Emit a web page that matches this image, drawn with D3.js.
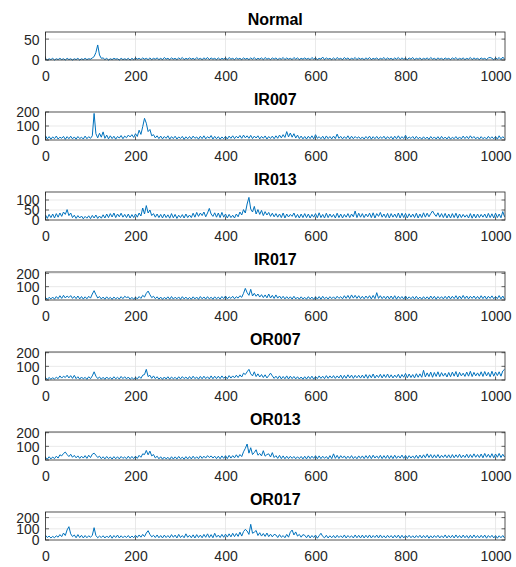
<!DOCTYPE html>
<html><head><meta charset="utf-8">
<script src="https://cdn.jsdelivr.net/npm/d3@7"></script>
<style>body{margin:0;background:#fff}svg{display:block}</style>
</head><body><svg id="c" width="516" height="567"></svg>
<script>
const titles = ["Normal","IR007","IR013","IR017","OR007","OR013","OR017"];
const xTicks = [0,200,400,600,800,1000];
const xMax = 1021;
const sampleStep = 4; // spectrum bin index of each stored value = i*sampleStep
const yMaxes = [67,200,140,210,205,205,250];
const yTickSets = [[0,50],[0,100,200],[0,50,100],[0,100,200],[0,100,200],[0,100,200],[0,100,200]];

const normal = [
4,0,3,1,4,0,3,1,4,1,3,0,4,1,3,0,
3,1,4,0,3,1,4,1,3,2,5,8,18,36,12,4,
5,1,4,0,3,1,4,2,3,0,4,1,3,1,4,0,
4,1,5,2,4,1,5,2,4,1,5,1,4,2,5,1,
4,1,6,2,4,1,5,2,4,1,5,2,6,1,4,2,
5,2,4,1,6,2,4,1,5,2,6,1,5,2,4,1,
5,1,4,2,5,1,6,2,4,1,5,2,4,1,5,2,
4,1,5,2,6,1,4,2,5,1,6,2,4,1,5,2,
5,1,4,2,6,1,5,2,4,1,6,2,5,1,4,2,
5,2,4,1,6,2,5,1,4,2,7,1,5,2,4,1,
5,1,6,2,4,1,6,2,5,1,4,2,6,1,5,2,
4,1,5,2,6,1,4,2,5,1,4,2,6,1,5,2,
4,1,5,2,6,1,5,2,4,1,5,2,6,1,4,2,
5,1,4,2,5,1,6,2,4,1,5,2,4,1,5,2,
4,1,5,2,6,1,4,2,5,1,4,2,6,1,5,2,
4,1,5,2,4,1,5,6,4,1,5,2,6,1,7,2];

const ir007 = [
30,8,24,6,22,10,28,7,20,12,26,5,24,9,27,8,
22,6,25,10,20,7,28,9,24,12,30,190,45,15,48,20,
58,12,35,8,30,10,27,6,25,14,32,9,28,16,35,22,
38,18,45,25,70,40,95,155,120,60,75,30,38,15,30,10,
28,8,25,12,30,6,24,10,27,7,22,11,26,5,23,9,
25,8,28,12,22,6,27,10,30,8,24,13,32,7,26,9,
24,6,22,9,26,7,28,12,30,10,27,14,32,12,35,15,
30,12,33,10,28,14,30,8,26,12,29,7,25,11,28,9,
30,12,35,15,38,18,60,22,50,20,45,14,35,10,28,8,
25,7,27,10,30,8,38,12,24,9,27,6,29,10,25,8,
28,10,42,12,26,8,24,10,30,7,27,9,25,12,23,8,
22,7,25,10,28,6,24,9,26,8,23,11,27,7,24,10,
25,6,27,9,30,8,24,10,34,8,22,11,25,7,26,9,
20,6,23,8,21,5,25,9,22,7,24,6,26,8,21,7,
24,6,20,9,25,7,22,8,28,10,26,9,30,12,25,8,
22,6,24,9,20,7,26,10,23,8,25,6,30,9,24,10];

const ir013 = [
25,8,28,12,30,10,32,14,35,18,40,28,52,22,35,12,
24,8,22,10,20,6,18,9,21,7,23,10,25,8,20,9,
26,10,30,12,32,15,35,12,30,16,34,14,28,12,30,10,
27,12,30,14,35,20,60,30,72,35,50,22,32,14,30,12,
28,10,30,12,26,9,32,11,28,8,24,12,27,10,30,12,
25,12,34,14,38,18,35,22,40,16,35,58,30,18,36,14,
35,12,38,14,30,10,28,12,24,10,30,16,40,25,52,35,
80,113,55,40,68,30,52,28,48,22,42,25,38,18,34,16,
32,14,30,12,35,10,30,15,28,18,35,12,28,10,30,12,
32,12,30,10,28,14,32,11,36,12,28,10,34,12,30,14,
28,10,34,12,30,10,28,14,32,12,30,16,45,12,34,14,
32,12,30,16,34,12,36,10,32,18,38,14,30,12,33,10,
32,14,30,12,35,10,34,12,33,10,31,14,30,12,34,10,
30,12,36,14,34,16,32,45,30,18,36,14,32,12,33,10,
30,10,32,12,34,9,30,12,28,14,26,10,32,9,30,10,
30,12,28,14,30,10,33,12,31,10,34,12,30,11,42,16];

const ir017 = [
18,5,20,8,22,6,26,10,32,12,35,15,30,18,33,12,
28,10,30,8,26,7,24,9,28,14,45,70,40,15,26,8,
22,6,24,8,20,5,22,9,19,7,25,10,28,18,24,6,
20,5,22,8,26,12,35,22,50,67,40,18,28,10,24,6,
22,5,20,8,24,6,26,7,21,9,23,5,25,8,22,6,
20,6,24,8,22,5,26,9,23,7,25,8,21,6,24,9,
22,7,26,10,30,8,24,12,28,9,25,14,32,20,50,87,
55,35,80,30,50,28,45,22,40,18,38,16,45,15,35,12,
38,14,30,10,28,8,25,9,24,7,28,8,22,6,24,8,
20,6,25,8,22,5,24,7,26,6,28,9,22,7,25,10,
24,8,28,12,25,9,32,12,34,10,38,14,35,12,32,10,
28,9,30,12,32,8,34,10,55,12,32,10,28,9,30,8,
30,8,32,6,28,10,26,7,30,8,24,9,26,7,28,8,
22,6,25,8,24,7,30,9,28,6,26,10,25,8,28,9,
30,8,28,10,32,7,30,9,34,10,30,8,28,12,30,9,
27,8,32,10,30,7,28,12,31,9,26,10,33,8,30,7];

const or007 = [
15,5,18,6,16,8,20,10,30,14,28,18,35,15,32,12,
34,10,24,6,22,8,20,5,24,10,30,60,28,10,22,6,
20,5,22,8,18,6,24,9,20,7,26,10,24,8,22,5,
18,6,20,8,26,12,35,40,78,25,35,12,30,10,24,6,
20,5,22,7,24,6,22,9,20,6,24,8,25,10,22,7,
25,8,28,10,22,6,26,9,28,10,24,8,30,9,28,10,
28,10,30,12,26,9,32,14,30,16,35,18,38,22,50,40,
60,78,45,30,60,25,45,22,40,18,38,15,32,50,30,12,
28,10,30,8,26,9,30,7,28,10,26,8,24,7,22,6,
24,7,26,9,28,6,25,10,30,12,28,10,32,12,30,14,
32,12,30,14,36,10,34,13,38,15,36,12,34,16,35,14,
36,14,40,12,38,16,44,14,36,18,42,15,40,18,44,16,
38,15,36,18,42,14,40,20,48,16,44,18,40,15,46,20,
45,20,71,22,52,25,58,20,55,26,60,24,54,28,50,22,
55,24,58,28,62,22,56,30,50,26,58,28,64,25,56,30,
52,28,60,26,62,30,56,24,64,28,58,32,60,28,66,78];

const or013 = [
20,6,24,8,22,10,28,14,38,30,48,58,40,25,42,20,
34,16,30,12,28,14,32,12,35,18,42,50,35,18,28,10,
24,8,26,10,22,7,25,9,24,8,26,12,22,9,28,10,
26,10,28,12,34,20,45,40,70,38,65,30,40,15,28,9,
24,6,22,8,20,5,24,7,23,8,26,9,21,6,25,8,
25,8,28,10,24,9,30,12,28,14,32,18,30,14,28,10,
28,9,30,12,32,10,34,14,32,16,38,18,40,25,60,85,
117,50,90,40,55,75,35,48,30,68,28,40,45,22,54,18,
32,12,34,10,30,9,28,10,27,12,26,9,24,10,26,8,
28,8,30,10,28,12,32,9,30,10,28,12,26,8,32,10,
45,12,34,10,32,14,30,10,28,12,32,10,26,9,30,12,
30,10,32,12,34,10,35,14,30,12,34,10,32,12,35,10,
32,10,35,12,30,14,36,12,34,10,32,14,30,12,35,12,
36,14,38,16,45,18,40,14,38,16,40,14,35,18,38,16,
38,14,40,16,38,18,42,16,36,18,42,16,40,18,45,20,
40,18,44,16,48,20,42,18,46,16,44,20,48,18,42,22];

const or017 = [
42,22,35,18,32,20,38,25,48,30,62,40,90,119,55,30,
45,20,48,22,42,18,40,20,38,24,42,110,40,20,35,22,
38,18,36,20,42,16,40,22,44,18,38,20,36,22,40,18,
36,20,42,22,45,25,50,30,62,83,50,28,42,22,45,20,
40,18,44,22,40,20,48,24,44,18,50,22,40,20,55,24,
42,20,46,18,48,22,44,20,50,24,55,22,48,20,60,25,
44,22,50,24,52,26,55,28,60,30,58,32,70,35,75,95,
80,50,140,60,70,85,40,65,35,58,32,62,30,52,28,50,
45,22,48,24,40,20,50,25,70,89,45,72,35,50,25,48,
42,20,45,18,40,22,44,16,38,60,32,20,42,18,38,20,
40,18,42,22,38,20,45,18,40,22,38,18,45,20,42,18,
44,18,42,20,45,18,40,22,44,18,45,20,38,18,42,22,
40,18,42,20,44,16,42,18,40,22,42,20,38,18,40,22,
42,18,40,20,42,16,38,18,40,22,42,18,38,20,45,18,
40,20,42,18,45,20,40,18,44,20,40,16,42,18,45,20,
40,18,42,20,44,16,40,22,42,18,40,16,38,20,40,18];

const seriesList = [normal, ir007, ir013, ir017, or007, or013, or017];

const svg = d3.select("#c");
svg.append("rect").attr("width",516).attr("height",567).attr("fill","#fff");
const font = "Arial, 'Liberation Sans', Helvetica, sans-serif";
const textCol = "#262626";
const left = 45.5, right = 505, plotH = 28, top0 = 32, gap = 80;
const x = d3.scaleLinear().domain([0, xMax]).range([left, right]);
const fmt = d3.format("d");

seriesList.forEach((vals, k) => {
  const top = top0 + gap * k, bottom = top + plotH;
  const y = d3.scaleLinear().domain([0, yMaxes[k]]).range([bottom, top]);
  const g = svg.append("g");
  // grid
  g.selectAll(".gx").data(xTicks.filter(t => t > 0)).enter().append("line")
    .attr("x1", d => x(d)).attr("x2", d => x(d)).attr("y1", top).attr("y2", bottom)
    .attr("stroke", "#e3e3e3").attr("stroke-width", 0.8);
  g.selectAll(".gy").data(yTickSets[k].filter(t => t > 0 && t < yMaxes[k])).enter().append("line")
    .attr("x1", left).attr("x2", right).attr("y1", d => y(d)).attr("y2", d => y(d))
    .attr("stroke", "#e3e3e3").attr("stroke-width", 0.8);
  // line
  const line = d3.line().x((d, i) => x(i * sampleStep)).y(d => y(d));
  g.append("path").datum(vals).attr("d", line).attr("fill", "none")
    .attr("stroke", "#0072BD").attr("stroke-width", 1).attr("stroke-linejoin", "round");
  // axes
  const xAxisB = d3.axisBottom(x).tickValues(xTicks).tickFormat(fmt).tickSize(0).tickPadding(0);
  const gxB = g.append("g").attr("transform", `translate(0,${bottom})`).call(xAxisB);
  gxB.select(".domain").remove();
  gxB.selectAll("text").attr("dy", null).attr("y", 20.5).attr("font-size", 14)
    .attr("font-family", font).attr("fill", textCol);
  const yAxisL = d3.axisLeft(y).tickValues(yTickSets[k]).tickFormat(fmt).tickSize(0).tickPadding(6);
  const gyL = g.append("g").attr("transform", `translate(${left},0)`).call(yAxisL);
  gyL.select(".domain").remove();
  gyL.selectAll("text").attr("dy", "0.35em").attr("font-size", 14)
    .attr("font-family", font).attr("fill", textCol);
  // inner ticks
  const tk = 3.5;
  xTicks.forEach(t => {
    g.append("line").attr("x1", x(t)).attr("x2", x(t)).attr("y1", bottom).attr("y2", bottom - tk).attr("stroke", textCol).attr("stroke-width", 0.7);
    g.append("line").attr("x1", x(t)).attr("x2", x(t)).attr("y1", top).attr("y2", top + tk).attr("stroke", textCol).attr("stroke-width", 0.7);
  });
  yTickSets[k].forEach(t => {
    g.append("line").attr("x1", left).attr("x2", left + tk).attr("y1", y(t)).attr("y2", y(t)).attr("stroke", textCol).attr("stroke-width", 0.7);
    g.append("line").attr("x1", right).attr("x2", right - tk).attr("y1", y(t)).attr("y2", y(t)).attr("stroke", textCol).attr("stroke-width", 0.7);
  });
  // box
  g.append("rect").attr("x", left).attr("y", top).attr("width", right - left).attr("height", plotH)
    .attr("fill", "none").attr("stroke", textCol).attr("stroke-width", 0.8);
  // title
  g.append("text").attr("x", (left + right) / 2).attr("y", top - 7.5).attr("text-anchor", "middle")
    .attr("font-family", font).attr("font-weight", "bold").attr("font-size", 16).attr("fill", "#000")
    .text(titles[k]);
});
</script></body></html>
